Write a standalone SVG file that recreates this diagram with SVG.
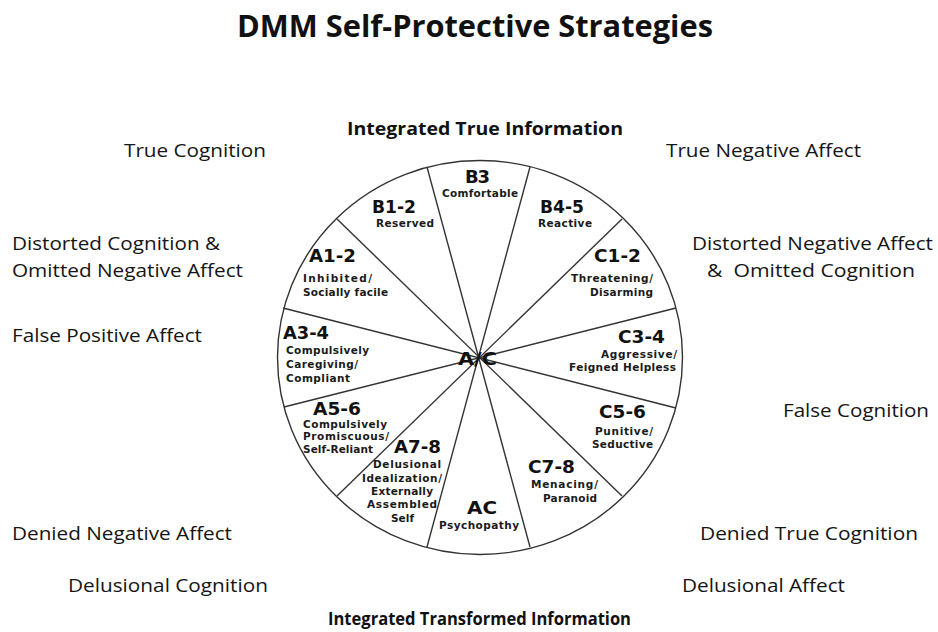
<svg xmlns="http://www.w3.org/2000/svg" width="938" height="632" viewBox="0 0 938 632">
<style>
.bg{fill:#ffffff}
.title{font-family:"Open Sans","Liberation Sans",sans-serif;font-weight:700;font-size:31px;fill:#111}
.head{font-family:"Open Sans","Liberation Sans",sans-serif;font-weight:700;font-size:18px;fill:#111}
.outer{font-family:"Open Sans","Liberation Sans",sans-serif;font-size:19px;fill:#151515;white-space:pre}
.code{font-family:"DejaVu Sans","Liberation Sans",sans-serif;font-weight:700;font-size:18px;fill:#111}
.desc{font-family:"DejaVu Sans","Liberation Sans",sans-serif;font-weight:700;font-size:10.5px;fill:#1a1a1a}
.rim{fill:none;stroke:#333;stroke-width:1.4}
.spoke{stroke:#333;stroke-width:1.4;fill:none}
</style>
<rect class="bg" x="0" y="0" width="938" height="632"/>
<text class="title" x="237" y="37" textLength="476" lengthAdjust="spacingAndGlyphs">DMM Self-Protective Strategies</text>
<g id="head-top"><text class="head" x="347" y="135" textLength="276" lengthAdjust="spacingAndGlyphs">Integrated True Information</text></g>
<g id="head-bottom"><text class="head" x="328" y="625" textLength="303" lengthAdjust="spacingAndGlyphs">Integrated Transformed Information</text></g>

<g id="outer-labels">
<text class="outer" x="124" y="157" textLength="142" lengthAdjust="spacingAndGlyphs">True Cognition</text>
<text class="outer" x="12" y="250" textLength="208" lengthAdjust="spacingAndGlyphs">Distorted Cognition &amp;</text>
<text class="outer" x="12" y="277" textLength="231" lengthAdjust="spacingAndGlyphs">Omitted Negative Affect</text>
<text class="outer" x="12" y="342" textLength="190" lengthAdjust="spacingAndGlyphs">False Positive Affect</text>
<text class="outer" x="666" y="157" textLength="195" lengthAdjust="spacingAndGlyphs">True Negative Affect</text>
<text class="outer" x="692" y="250" textLength="241" lengthAdjust="spacingAndGlyphs">Distorted Negative Affect</text>
<text class="outer" x="707" y="277" textLength="208" lengthAdjust="spacingAndGlyphs">&amp;  Omitted Cognition</text>
<text class="outer" x="783" y="417" textLength="146" lengthAdjust="spacingAndGlyphs">False Cognition</text>
<text class="outer" x="12" y="540" textLength="220" lengthAdjust="spacingAndGlyphs">Denied Negative Affect</text>
<text class="outer" x="700" y="540" textLength="218" lengthAdjust="spacingAndGlyphs">Denied True Cognition</text>
<text class="outer" x="68" y="592" textLength="200" lengthAdjust="spacingAndGlyphs">Delusional Cognition</text>
<text class="outer" x="682" y="592" textLength="163" lengthAdjust="spacingAndGlyphs">Delusional Affect</text>
</g>

<g id="wheel">
<ellipse class="rim" cx="480" cy="357.5" rx="202.5" ry="197"/>
</g>

<g id="connectors">
<line class="spoke" x1="427" y1="167" x2="530" y2="547"/>
<line class="spoke" x1="530" y1="167" x2="427" y2="547"/>
<line class="spoke" x1="622" y1="219" x2="337" y2="496"/>
<line class="spoke" x1="337" y1="219" x2="622" y2="496"/>
<line class="spoke" x1="283" y1="308" x2="676" y2="408"/>
<line class="spoke" x1="676" y1="308" x2="284" y2="407"/>
</g>

<g id="B3">
<text class="code" x="465" y="183" textLength="25">B3</text>
<text class="desc" x="442" y="197" textLength="76">Comfortable</text>
</g>
<g id="B1-2">
<text class="code" x="372" y="213" textLength="44" lengthAdjust="spacingAndGlyphs">B1-2</text>
<text class="desc" x="376" y="227" textLength="58">Reserved</text>
</g>
<g id="B4-5">
<text class="code" x="540" y="213" textLength="44" lengthAdjust="spacingAndGlyphs">B4-5</text>
<text class="desc" x="538" y="227" textLength="54">Reactive</text>
</g>
<g id="A1-2">
<text class="code" x="309" y="262" textLength="47" lengthAdjust="spacingAndGlyphs">A1-2</text>
<text class="desc" x="303" y="282" textLength="69">Inhibited/</text>
<text class="desc" x="303" y="296" textLength="85">Socially facile</text>
</g>
<g id="C1-2">
<text class="code" x="594" y="262" textLength="47" lengthAdjust="spacingAndGlyphs">C1-2</text>
<text class="desc" x="571" y="282" textLength="82">Threatening/</text>
<text class="desc" x="590" y="296" textLength="63">Disarming</text>
</g>
<g id="A3-4">
<text class="code" x="283" y="339" textLength="46" lengthAdjust="spacingAndGlyphs">A3-4</text>
<text class="desc" x="286" y="354" textLength="83">Compulsively</text>
<text class="desc" x="286" y="368" textLength="72">Caregiving/</text>
<text class="desc" x="286" y="382" textLength="64">Compliant</text>
</g>
<g id="C3-4">
<text class="code" x="618" y="343" textLength="47" lengthAdjust="spacingAndGlyphs">C3-4</text>
<text class="desc" x="601" y="358" textLength="76">Aggressive/</text>
<text class="desc" x="569" y="371" textLength="107">Feigned Helpless</text>
</g>
<g id="A5-6">
<text class="code" x="313" y="414.5" textLength="48" lengthAdjust="spacingAndGlyphs">A5-6</text>
<text class="desc" x="303" y="428" textLength="84">Compulsively</text>
<text class="desc" x="303" y="440" textLength="86">Promiscuous/</text>
<text class="desc" x="303" y="453" textLength="70">Self-Reliant</text>
</g>
<g id="C5-6">
<text class="code" x="599" y="418" textLength="47" lengthAdjust="spacingAndGlyphs">C5-6</text>
<text class="desc" x="595" y="435" textLength="58">Punitive/</text>
<text class="desc" x="592" y="448" textLength="61">Seductive</text>
</g>
<g id="A7-8">
<text class="code" x="394" y="453" textLength="47" lengthAdjust="spacingAndGlyphs">A7-8</text>
<text class="desc" x="373" y="468" textLength="68">Delusional</text>
<text class="desc" x="362" y="482" textLength="80">Idealization/</text>
<text class="desc" x="371" y="495" textLength="62">Externally</text>
<text class="desc" x="367" y="508" textLength="70">Assembled</text>
<text class="desc" x="391" y="522" textLength="23">Self</text>
</g>
<g id="AC">
<text class="code" x="467" y="514" textLength="30" lengthAdjust="spacingAndGlyphs">AC</text>
<text class="desc" x="439" y="529" textLength="80">Psychopathy</text>
</g>
<g id="C7-8">
<text class="code" x="528" y="473" textLength="47" lengthAdjust="spacingAndGlyphs">C7-8</text>
<text class="desc" x="531" y="488" textLength="67">Menacing/</text>
<text class="desc" x="543" y="502" textLength="54">Paranoid</text>
</g>
<g id="A-C">
<text class="code" x="458" y="365" textLength="39" lengthAdjust="spacingAndGlyphs">A/C</text>
</g>
</svg>
